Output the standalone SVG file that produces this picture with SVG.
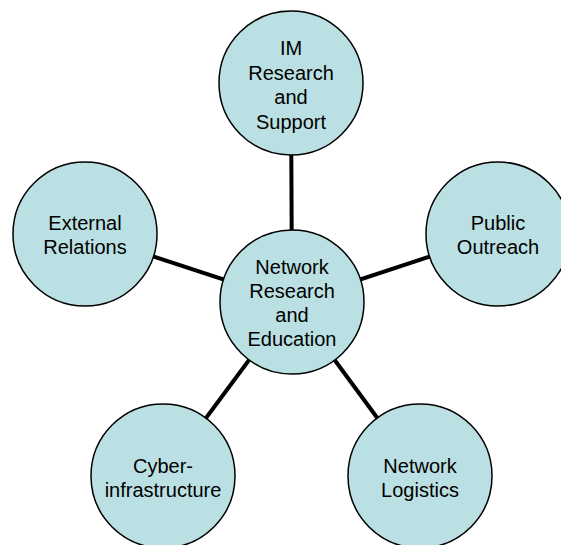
<svg xmlns="http://www.w3.org/2000/svg" width="561" height="545" viewBox="0 0 561 545">
<style>
.n{fill:#bbe0e3;stroke:#000;stroke-width:1.5}
.t{font-family:"Liberation Sans",Arial,sans-serif;font-size:20px;fill:#000;text-anchor:middle}
.c{stroke:#000;stroke-width:4;fill:none}
</style>
<rect width="561" height="545" fill="#fff"/>
<g id="connectors">
<line class="c" x1="292" y1="302" x2="291" y2="83"/>
<line class="c" x1="292" y1="302" x2="85" y2="234"/>
<line class="c" x1="292" y1="302" x2="498" y2="234"/>
<line class="c" x1="292" y1="302" x2="163" y2="476"/>
<line class="c" x1="292" y1="302" x2="420" y2="476"/>
</g>
<g id="center">
<circle class="n" cx="292" cy="302" r="72"/>
<text class="t" x="292" y="274">Network</text>
<text class="t" x="292" y="298">Research</text>
<text class="t" x="292" y="322">and</text>
<text class="t" x="292" y="346">Education</text>
</g>
<g id="im">
<circle class="n" cx="291" cy="83" r="72"/>
<text class="t" x="291" y="55">IM</text>
<text class="t" x="291" y="80">Research</text>
<text class="t" x="291" y="104">and</text>
<text class="t" x="291" y="129">Support</text>
</g>
<g id="external">
<circle class="n" cx="85" cy="234" r="72"/>
<text class="t" x="85" y="230">External</text>
<text class="t" x="85" y="254">Relations</text>
</g>
<g id="public">
<circle class="n" cx="498" cy="234" r="72"/>
<text class="t" x="498" y="230">Public</text>
<text class="t" x="498" y="254">Outreach</text>
</g>
<g id="cyber">
<circle class="n" cx="163" cy="476" r="72"/>
<text class="t" x="163" y="473">Cyber-</text>
<text class="t" x="163" y="497">infrastructure</text>
</g>
<g id="logistics">
<circle class="n" cx="420" cy="476" r="72"/>
<text class="t" x="420" y="473">Network</text>
<text class="t" x="420" y="497">Logistics</text>
</g>
</svg>
